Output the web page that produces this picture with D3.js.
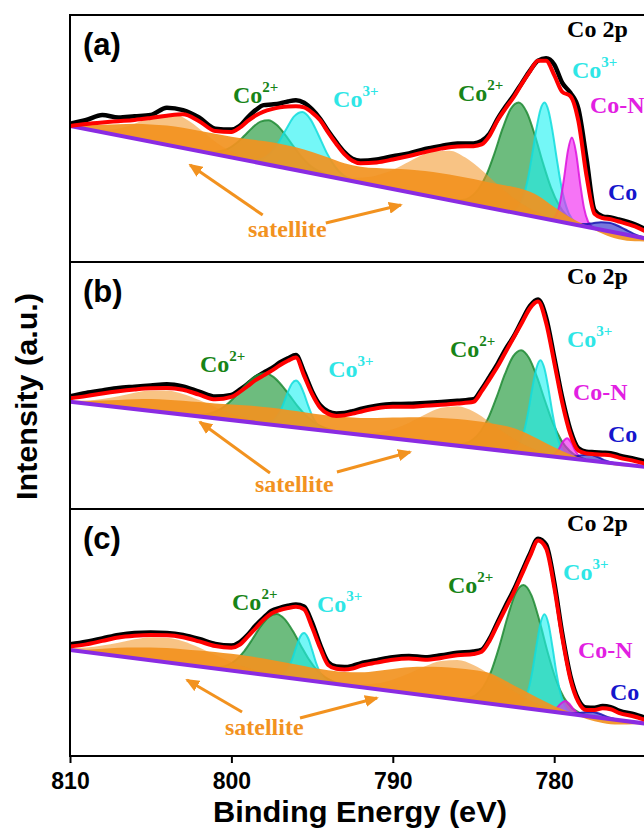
<!DOCTYPE html>
<html>
<head>
<meta charset="utf-8">
<title>Co 2p XPS spectra</title>
<script src="https://cdn.jsdelivr.net/npm/d3@7"></script>
<style>
  html, body { margin: 0; padding: 0; background: #fff; }
  svg { display: block; }
</style>
</head>
<body>
<svg id="chart" width="644" height="832"></svg>
<script>
// ---------- data ----------
// binding-energy grid (eV) shared by the measured spectra and the fit envelopes
const energy = [810,809,808,807,806,805,804,803,802,801,800,
  799.5,799,798.5,798,797.5,797,796.5,796,795.5,795,794.5,794,793.5,793,792.5,792,
  791,790,789,788,787,786,785,
  784.5,784,783.5,783,782.5,782,781.5,781,780.5,780,779.5,779,778.5,778,777.5,777,776.5,776,
  775,774,773,772,771,770];

// sample (a)
const rawA = [56.0,57.5,59.5,58.5,59.0,59.5,62.5,61.5,58.5,54.0,53.6,
  55.0,58.5,61.5,63.5,63.8,64.2,65.0,65.5,64.5,61.8,58.0,53.0,48.5,44.5,41.8,41.0,
  41.5,42.8,44.0,45.8,47.0,48.0,48.0,
  49.0,52.0,58.0,63.0,67.5,72.5,77.5,81.5,82.5,80.0,72.5,68.5,62.0,42.0,21.0,18.5,18.0,17.2,
  15.2,12.3,10.0,8.3,7.0,5.8];
const fitA = [55.1,55.9,56.5,57.0,57.5,58.3,59.2,59.8,57.0,53.0,52.6,
  54.3,57.0,59.3,60.9,61.9,62.6,63.0,63.1,62.6,60.5,57.4,52.4,47.8,43.7,41.0,40.0,
  40.3,41.5,42.9,44.5,45.9,46.8,46.9,
  47.6,51.2,57.4,62.3,66.8,72.2,77.2,81.5,81.5,75.7,68.9,67.2,57.0,35.0,19.5,17.8,17.3,16.4,
  14.4,11.5,9.4,7.8,6.6,5.5];
const bgA = [[810,55.1],[770,4.0]];
const co2MainA = [[786.2,0.3],[785.7,1.0],[785.2,2.8],[784.7,6.6],[784.2,13.1],[783.7,22.5],[783.2,33.1],[782.7,41.7],[782.2,45],[781.7,41.7],[781.2,33.1],[780.7,22.5],[780.2,13.1],[779.7,6.6],[779.2,2.8],[778.7,1.0],[778.2,0.3]];
const co3MainA = [[783.1,0.05],[782.6,0.6],[782.1,4.1],[781.85,8.6],[781.6,15.9],[781.35,25.6],[781.1,35.9],[780.85,43.9],[780.6,47],[780.35,43.9],[780.1,35.9],[779.85,25.6],[779.6,15.9],[779.35,8.6],[779.1,4.1],[778.6,0.6],[778.1,0.05]];
const coNA = [[780.4,0.07],[780.15,0.5],[779.9,2.2],[779.65,7.4],[779.4,17.5],[779.15,29.4],[778.9,35],[778.65,29.4],[778.4,17.5],[778.15,7.4],[777.9,2.2],[777.65,0.5],[777.4,0.07]];
const co0A = [[779.1,0.1],[778.6,0.35],[778.1,1.0],[777.6,2.0],[777.1,3.0],[776.6,3.5],[776.1,3.0],[775.6,2.0],[775.1,1.0],[774.6,0.35],[774.1,0.1]];
const co2MinorA = [[801.7,0.2],[801.2,0.6],[800.7,1.6],[800.2,3.3],[799.7,6.1],[799.2,9.8],[798.7,13.7],[798.2,16.8],[797.7,18],[797.2,16.8],[796.7,13.7],[796.2,9.8],[795.7,6.1],[795.2,3.3],[794.7,1.6],[794.2,0.6],[793.7,0.2]];
const co3MinorA = [[799.1,0.16],[798.6,0.6],[798.1,1.8],[797.6,4.7],[797.1,9.5],[796.6,15.9],[796.1,21.7],[795.6,24],[795.1,21.7],[794.6,15.9],[794.1,9.5],[793.6,4.7],[793.1,1.8],[792.6,0.6],[792.1,0.16]];
const bandA = [[810,0],[809,1.5],[808,3],[807,4.5],[806,6],[805,7],[804,7.8],[803,8.2],[802,8.3],[801,8.3],[800,8.4],[799,8.8],[798,9.2],[797,9.4],[796,9.2],[795,8.6],[794,7.6],[793,6.6],[792,6.5],[791,7.2],[790,8.2],[789,9.2],[788,9.8],[787,10.2],[786,10.4],[785,10.4],[784,10.3],[783,10.4],[782,10.2],[781,8.8],[780,5.5],[779,2.5],[778,0.5],[777,-1.5],[776,-2.5],[775,-2.0],[774,-0.8],[773,0]];
const satHiA = [[809.6,0.1],[808.6,0.4],[807.6,1.5],[806.6,3.8],[805.6,7.5],[804.6,11.3],[803.6,13],[802.6,11.3],[801.6,7.5],[800.6,3.8],[799.6,1.5],[798.6,0.4],[797.6,0.1]];
const satLoA = [[793.5,0.46],[792.5,1.25],[791.5,2.9],[790.5,5.8],[789.5,10],[788.5,14.7],[787.5,18.5],[786.5,20],[785.5,18.5],[784.5,14.7],[783.5,10],[782.5,5.8],[781.5,2.9],[780.5,1.25],[779.5,0.46]];

// sample (b)
const rawB = [45.6,47.0,48.0,49.0,49.5,50.0,50.5,49.6,47.5,45.5,46.2,
  48.2,50.6,53.2,55.2,57.0,59.3,61.0,62.3,55.5,47.6,42.0,39.5,38.7,38.9,39.6,40.5,
  41.8,42.5,42.6,42.9,43.3,43.8,44.4,
  48.5,53.6,58.9,64.8,70.0,76.3,82.2,84.8,77.5,61.5,45.0,32.0,24.6,23.2,23.0,22.8,22.6,21.7,
  20.3,18.7,17.4,16.4,15.6,14.8];
const fitB = [44.8,45.7,46.8,47.7,48.4,48.9,49.0,48.3,46.3,44.4,45.4,
  47.3,49.7,52.2,54.1,56.0,58.2,60.0,61.3,54.0,46.5,41.0,38.5,37.7,37.9,38.6,39.4,
  40.8,41.4,41.4,41.8,42.2,42.7,43.4,
  47.6,52.6,57.8,63.7,69.5,75.4,81.3,84.0,75.3,59.4,43.0,30.3,23.6,22.5,22.2,22.0,21.7,20.8,
  19.4,17.8,16.6,15.6,14.8,14.0];
const bgB = [[810,43.4],[770,13.8]];
const co2MainB = [[786.05,0.4],[785.55,1.2],[785.05,3.1],[784.55,6.9],[784.05,13.1],[783.55,21.8],[783.05,31.2],[782.55,38.7],[782.05,41.6],[781.55,38.7],[781.05,31.2],[780.55,21.8],[780.05,13.1],[779.55,6.9],[779.05,3.1],[778.55,1.2],[778.05,0.4]];
const co3MainB = [[782.85,0.13],[782.35,1.6],[782.1,4.2],[781.85,9.3],[781.6,17.3],[781.35,27.0],[781.1,35.1],[780.85,38.4],[780.6,35.1],[780.35,27.0],[780.1,17.3],[779.85,9.3],[779.6,4.2],[779.35,1.6],[778.85,0.13]];
const coNB = [[780.45,0.04],[780.2,0.26],[779.95,1.2],[779.7,3.4],[779.45,6.5],[779.2,8],[778.95,6.5],[778.7,3.4],[778.45,1.2],[778.2,0.26],[777.95,0.04]];
const co0B = [[779.8,0.02],[779.3,0.16],[778.8,0.73],[778.3,1.84],[777.8,2.5],[777.3,1.84],[776.8,0.73],[776.3,0.16],[775.8,0.02]];
const co2MinorB = [[802.4,0.27],[801.9,0.7],[801.4,1.5],[800.9,3.0],[800.4,5.4],[799.9,8.7],[799.4,12.7],[798.9,16.5],[798.4,19.4],[797.9,20.5],[797.4,19.4],[796.9,16.5],[796.4,12.7],[795.9,8.7],[795.4,5.4],[794.9,3.0],[794.4,1.5],[793.9,0.7],[793.4,0.27]];
const co3MinorB = [[798,0.13],[797.5,1.2],[797.25,2.8],[797,5.5],[796.75,9.5],[796.5,14.0],[796.25,17.6],[796,19],[795.75,17.6],[795.5,14.0],[795.25,9.5],[795,5.5],[794.75,2.8],[794.5,1.2],[794,0.13]];
const bandB = [[810,0],[809,1],[808,2],[807,3],[806,4],[805,4.8],[804,5.3],[803,5.6],[802,5.8],[801,6.0],[800,6.3],[799,6.6],[798,6.8],[797,6.8],[796,6.6],[795,6.4],[794,6.3],[793,6.4],[792,6.8],[791,7.5],[790,8.4],[789,9.3],[788,10.0],[787,10.5],[786,10.8],[785,10.8],[784,10.6],[783,10.2],[782,8.8],[781,6.4],[780,3.8],[779,1.6],[778,0.3],[777,-0.6],[776,-0.8],[775,-0.4],[774,0]];
const satHiB = [[810,0.56],[809,1.3],[808,2.6],[807,4.5],[806,6.6],[805,8.3],[804,9],[803,8.3],[802,6.6],[801,4.5],[800,2.6],[799,1.3],[798,0.56],[797,0.2]];
const satLoB = [[793,0.18],[792,0.6],[791,1.6],[790,3.7],[789,7.0],[788,11.1],[787,14.6],[786,16],[785,14.6],[784,11.1],[783,7.0],[782,3.7],[781,1.6],[780,0.6],[779,0.18]];

// sample (c)
const rawC = [45.2,46.3,47.6,49.0,49.8,50.0,49.8,49.0,47.4,45.4,44.7,
  46.0,49.0,52.8,56.0,58.8,60.0,60.8,61.3,60.5,54.0,45.0,38.0,36.2,36.0,36.5,37.5,
  38.8,40.0,40.5,40.0,40.8,41.8,42.3,
  43.0,47.5,54.3,60.9,67.3,74.6,81.9,88.0,85.5,70.5,49.5,32.5,22.8,19.6,19.5,20.2,19.8,18.4,
  16.8,14.8,13.6,12.6,11.7,10.8];
const fitC = [44.3,45.2,46.6,48.0,48.7,49.0,48.9,48.1,46.4,44.5,43.8,
  45.0,48.2,51.7,55.2,57.8,59.1,59.9,60.4,59.4,52.1,43.7,36.8,35.3,35.0,35.4,36.5,
  37.8,39.0,39.5,39.0,39.7,40.8,41.3,
  42.2,46.7,53.3,59.9,66.3,73.6,80.9,87.2,84.0,68.5,48.0,31.2,21.8,18.6,18.6,19.3,18.9,17.5,
  15.9,14.0,12.8,11.8,10.9,10.0];
const bgC = [[810,42.9],[770,9.5]];
const co2MainC = [[785.9,0.25],[785.4,0.9],[784.9,2.5],[784.4,6.3],[783.9,13.3],[783.4,23.7],[782.9,35.8],[782.4,45.9],[781.9,49.8],[781.4,45.9],[780.9,35.8],[780.4,23.7],[779.9,13.3],[779.4,6.3],[778.9,2.5],[778.4,0.9],[777.9,0.25]];
const co3MainC = [[782.6,0.05],[782.1,1.0],[781.85,3.0],[781.6,7.6],[781.35,15.5],[781.1,25.9],[780.85,35.2],[780.6,39],[780.35,35.2],[780.1,25.9],[779.85,15.5],[779.6,7.6],[779.35,3.0],[779.1,1.0],[778.6,0.05]];
const coNC = [[780.55,0.03],[780.3,0.17],[780.05,0.73],[779.8,2.1],[779.55,4.0],[779.3,5],[779.05,4.0],[778.8,2.1],[778.55,0.73],[778.3,0.17],[778.05,0.03]];
const co0C = [[779.6,0.01],[779.1,0.13],[778.6,0.58],[778.1,1.47],[777.6,2],[777.1,1.47],[776.6,0.58],[776.1,0.13],[775.6,0.01]];
const co2MinorC = [[801.2,0.33],[800.7,0.9],[800.2,2.2],[799.7,4.7],[799.2,8.6],[798.7,13.8],[798.2,19.3],[797.7,23.6],[797.2,25.3],[796.7,23.6],[796.2,19.3],[795.7,13.8],[795.2,8.6],[794.7,4.7],[794.2,2.2],[793.7,0.9],[793.2,0.33]];
const co3MinorC = [[797.5,0.03],[797,0.5],[796.75,1.5],[796.5,3.7],[796.25,7.5],[796,12.6],[795.75,17.2],[795.5,19],[795.25,17.2],[795,12.6],[794.75,7.5],[794.5,3.7],[794.25,1.5],[794,0.5],[793.5,0.03]];
const bandC = [[810,0],[809,1],[808,2.2],[807,3.4],[806,4.4],[805,5.2],[804,5.8],[803,6.2],[802,6.5],[801,6.7],[800,6.8],[799,6.8],[798,6.6],[797,6.2],[796,5.8],[795,5.4],[794,5.2],[793,5.3],[792,6.0],[791,7.4],[790,9.0],[789,10.6],[788,11.6],[787,12.3],[786,12.7],[785,12.8],[784,12.4],[783,10.0],[782,7.4],[781,4.8],[780,2.4],[779,0.6],[778,-1.2],[777,-2.0],[776,-1.8],[775,-0.8],[774,0]];
const satHiC = [[810,0.9],[809,1.9],[808,3.5],[807,5.5],[806,7.7],[805,9.4],[804,10],[803,9.4],[802,7.7],[801,5.5],[800,3.5],[799,1.9],[798,0.9],[797,0.4]];
const satLoC = [[793,0.37],[792,1.0],[791,2.3],[790,4.7],[789,8.0],[788,11.8],[787,14.8],[786,16],[785,14.8],[784,11.8],[783,8.0],[782,4.7],[781,2.3],[780,1.0],[779,0.37]];

// axis ticks
const energyTicks = [810, 800, 790, 780];

// annotation anchors (energy, intensity) per panel
const ionLabelsA = [
  {text:'Co', sup:'2+', kind:'co2', e:799.9, v:64.4},
  {text:'Co', sup:'3+', kind:'co3', e:793.7, v:62.8},
  {text:'Co', sup:'2+', kind:'co2', e:785.96, v:65.2},
  {text:'Co', sup:'3+', kind:'co3', e:778.9, v:74.5},
  {text:'Co-N', sup:'', kind:'coN', e:777.78, v:60.3},
  {text:'Co', sup:'', kind:'co0', e:776.67, v:25.1}
];
const ionLabelsB = [
  {text:'Co', sup:'2+', kind:'co2', e:801.95, v:55.5},
  {text:'Co', sup:'3+', kind:'co3', e:794.0, v:53.4},
  {text:'Co', sup:'2+', kind:'co2', e:786.46, v:61.5},
  {text:'Co', sup:'3+', kind:'co3', e:779.21, v:65.6},
  {text:'Co-N', sup:'', kind:'coN', e:778.84, v:44.1},
  {text:'Co', sup:'', kind:'co0', e:776.67, v:27.1}
];
const ionLabelsC = [
  {text:'Co', sup:'2+', kind:'co2', e:799.96, v:59.1},
  {text:'Co', sup:'3+', kind:'co3', e:794.7, v:58.3},
  {text:'Co', sup:'2+', kind:'co2', e:786.58, v:66.0},
  {text:'Co', sup:'3+', kind:'co3', e:779.45, v:71.3},
  {text:'Co-N', sup:'', kind:'coN', e:778.53, v:39.7},
  {text:'Co', sup:'', kind:'co0', e:776.54, v:22.7}
];
// satellite label anchor and pointer arrows [tailE, tailV, headE, headV]
const satNoteA = {e:798.97, v:10.1, arrows:[[798.06,19.0,802.56,39.3],[794.15,15.8,789.5,23.1]]};
const satNoteB = {e:798.54, v:6.9, arrows:[[797.61,14.6,801.95,35.2],[793.46,15.0,788.93,23.1]]};
const satNoteC = {e:800.4, v:8.5, arrows:[[799.34,17.8,802.75,30.8],[795.75,15.4,790.98,23.5]]};

// ---------- drawing ----------
const svg = d3.select('#chart');
const sans = '"Liberation Sans", Arial, Helvetica, sans-serif';
const serif = '"Liberation Serif", "Times New Roman", Times, serif';
const orange = '#f2921f';

const plotLeft = 70, plotRight = 715.6;
const x = d3.scaleLinear().domain([810, 770]).range([plotLeft, plotRight]);

const styles = {
  co2: {fill:'#35a24c', opacity:0.72, stroke:'#1f8a34', text:'#178417'},
  co3: {fill:'#1ff2f2', opacity:0.62, stroke:'#12dcdc', text:'#2ee6e6'},
  coN: {fill:'#f01ef0', opacity:0.62, stroke:'#dd10dd', text:'#e21fe2'},
  co0: {fill:'#1c1cc4', opacity:0.6, stroke:'#1414b0', text:'#1515cc'}
};

const panels = [
  {id:'a', top:15, bottom:262, bg:bgA, raw:rawA, fit:fitA, band:bandA, sats:[satHiA, satLoA],
   comps:[[co2MainA,'co2'],[co2MinorA,'co2'],[co3MainA,'co3'],[co3MinorA,'co3'],[coNA,'coN'],[co0A,'co0']],
   labels:ionLabelsA, sat:satNoteA},
  {id:'b', top:262, bottom:509, bg:bgB, raw:rawB, fit:fitB, band:bandB, sats:[satHiB, satLoB],
   comps:[[co2MainB,'co2'],[co2MinorB,'co2'],[co3MainB,'co3'],[co3MinorB,'co3'],[coNB,'coN'],[co0B,'co0']],
   labels:ionLabelsB, sat:satNoteB},
  {id:'c', top:509, bottom:756, bg:bgC, raw:rawC, fit:fitC, band:bandC, sats:[satHiC, satLoC],
   comps:[[co2MainC,'co2'],[co2MinorC,'co2'],[co3MainC,'co3'],[co3MinorC,'co3'],[coNC,'coN'],[co0C,'co0']],
   labels:ionLabelsC, sat:satNoteC}
];

const defs = svg.append('defs');
defs.append('marker')
  .attr('id', 'satArrow')
  .attr('viewBox', '0 0 14 12')
  .attr('refX', 12).attr('refY', 6)
  .attr('markerWidth', 14).attr('markerHeight', 12)
  .attr('markerUnits', 'userSpaceOnUse')
  .attr('orient', 'auto')
  .append('path').attr('d', 'M0,0 L14,6 L0,12 Z').attr('fill', orange);

panels.forEach(p => {
  const y = d3.scaleLinear().domain([0, 100]).range([p.bottom, p.top]);
  const bg = d3.scaleLinear().domain([p.bg[0][0], p.bg[1][0]]).range([p.bg[0][1], p.bg[1][1]]);

  defs.append('clipPath').attr('id', 'clip-' + p.id)
    .append('rect').attr('x', plotLeft).attr('y', p.top)
    .attr('width', plotRight - plotLeft).attr('height', p.bottom - p.top);

  const g = svg.append('g').attr('class', 'panel-' + p.id);
  const plot = g.append('g').attr('clip-path', `url(#clip-${p.id})`);

  const line = d3.line().x(d => x(d[0])).y(d => y(d[1])).curve(d3.curveMonotoneX);
  const peakArea = d3.area().x(d => x(d[0]))
    .y0(d => y(bg(d[0]))).y1(d => y(bg(d[0]) + d[1])).curve(d3.curveMonotoneX);
  const peakTop = d3.line().x(d => x(d[0])).y(d => y(bg(d[0]) + d[1])).curve(d3.curveMonotoneX);

  // measured spectrum
  const measured = energy.map((e, i) => [e, p.raw[i]]);
  plot.append('path').datum(measured).attr('d', line)
    .attr('fill', 'none').attr('stroke', '#000').attr('stroke-width', 4.5)
    .attr('stroke-linejoin', 'round').attr('stroke-linecap', 'round');

  // fitted Co components
  p.comps.forEach(([data, kind]) => {
    const s = styles[kind];
    plot.append('path').datum(data).attr('d', peakArea)
      .attr('fill', s.fill).attr('fill-opacity', s.opacity);
    plot.append('path').datum(data).attr('d', peakTop)
      .attr('fill', 'none').attr('stroke', s.stroke).attr('stroke-width', 2).attr('stroke-opacity', 0.85);
  });

  // shake-up satellites
  plot.append('path').datum(p.band).attr('d', peakArea).attr('fill', orange).attr('fill-opacity', 0.92);
  p.sats.forEach(sd => {
    plot.append('path').datum(sd).attr('d', peakArea).attr('fill', orange).attr('fill-opacity', 0.55);
  });

  // background
  plot.append('path').datum(p.bg).attr('d', d3.line().x(d => x(d[0])).y(d => y(d[1])))
    .attr('fill', 'none').attr('stroke', '#8a2be2').attr('stroke-width', 4);

  // fit envelope
  const envelope = energy.map((e, i) => [e, p.fit[i]]);
  plot.append('path').datum(envelope).attr('d', line)
    .attr('fill', 'none').attr('stroke', '#ff0000').attr('stroke-width', 4)
    .attr('stroke-linejoin', 'round');

  // frame
  g.append('rect').attr('x', plotLeft).attr('y', p.top)
    .attr('width', plotRight - plotLeft).attr('height', p.bottom - p.top)
    .attr('fill', 'none').attr('stroke', '#000').attr('stroke-width', 2);

  // panel letter and core-level title
  g.append('text').attr('x', x(809.2)).attr('y', y(84))
    .attr('font-family', sans).attr('font-weight', 'bold').attr('font-size', 31)
    .attr('fill', '#000').text(`(${p.id})`);
  g.append('text').attr('x', x(779.2)).attr('y', y(91))
    .attr('font-family', serif).attr('font-weight', 'bold').attr('font-size', 24)
    .attr('fill', '#000').text('Co 2p');

  // species labels
  p.labels.forEach(l => {
    const t = g.append('text').attr('x', x(l.e)).attr('y', y(l.v))
      .attr('font-family', serif).attr('font-weight', 'bold').attr('font-size', 24)
      .attr('fill', styles[l.kind].text);
    t.append('tspan').text(l.text);
    if (l.sup) t.append('tspan').attr('font-size', 15).attr('dy', -11).text(l.sup);
  });

  // satellite note with arrows
  g.append('text').attr('x', x(p.sat.e)).attr('y', y(p.sat.v))
    .attr('font-family', serif).attr('font-weight', 'bold').attr('font-size', 24)
    .attr('fill', orange).text('satellite');
  p.sat.arrows.forEach(a => {
    g.append('line')
      .attr('x1', x(a[0])).attr('y1', y(a[1])).attr('x2', x(a[2])).attr('y2', y(a[3]))
      .attr('stroke', orange).attr('stroke-width', 3).attr('marker-end', 'url(#satArrow)');
  });
});

// energy axis along the bottom panel
const axis = svg.append('g').attr('transform', `translate(0,${panels[2].bottom})`)
  .call(d3.axisBottom(x).tickValues(energyTicks).tickSize(7).tickSizeOuter(0).tickFormat(d3.format('d')));
axis.select('.domain').remove();
axis.selectAll('.tick line').attr('stroke', '#000').attr('stroke-width', 2);
axis.selectAll('.tick text')
  .attr('font-family', sans).attr('font-weight', 'bold').attr('font-size', 23)
  .attr('fill', '#000').attr('y', 17);

svg.append('text').attr('x', 360).attr('y', 822).attr('text-anchor', 'middle')
  .attr('font-family', sans).attr('font-weight', 'bold').attr('font-size', 30)
  .attr('textLength', 294).attr('lengthAdjust', 'spacingAndGlyphs')
  .attr('fill', '#000').text('Binding Energy (eV)');

svg.append('text').attr('transform', 'translate(37,396.5) rotate(-90)').attr('text-anchor', 'middle')
  .attr('font-family', sans).attr('font-weight', 'bold').attr('font-size', 30)
  .attr('textLength', 207).attr('lengthAdjust', 'spacingAndGlyphs')
  .attr('fill', '#000').text('Intensity (a.u.)');
</script>
</body>
</html>
